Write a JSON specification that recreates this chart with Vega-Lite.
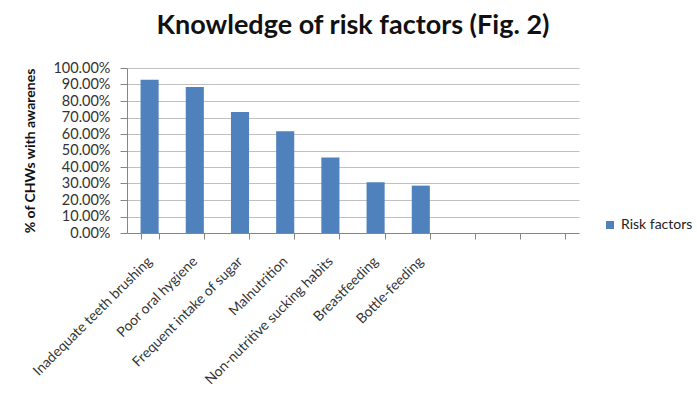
{
  "$schema": "https://vega.github.io/schema/vega-lite/v6.json",
  "width": 452,
  "height": 165,
  "autosize": {"type": "none"},
  "padding": {"left": 127, "top": 68, "right": 118, "bottom": 161},
  "background": "white",
  "title": {
    "text": "Knowledge of risk factors (Fig. 2)",
    "font": "Lato",
    "fontSize": 27,
    "fontWeight": "bold",
    "color": "#111111",
    "anchor": "middle",
    "offset": 20
  },
  "data": {
    "values": [
      {"factor": "Inadequate teeth brushing", "pct": 0.929, "series": "Risk factors"},
      {"factor": "Poor oral hygiene", "pct": 0.885, "series": "Risk factors"},
      {"factor": "Frequent intake of sugar", "pct": 0.733, "series": "Risk factors"},
      {"factor": "Malnutrition", "pct": 0.616, "series": "Risk factors"},
      {"factor": "Non-nutritive sucking habits", "pct": 0.458, "series": "Risk factors"},
      {"factor": "Breastfeeding", "pct": 0.307, "series": "Risk factors"},
      {"factor": "Bottle-feeding", "pct": 0.287, "series": "Risk factors"}
    ]
  },
  "mark": {"type": "bar"},
  "encoding": {
    "x": {
      "field": "factor",
      "type": "nominal",
      "scale": {
        "domain": ["Inadequate teeth brushing", "Poor oral hygiene", "Frequent intake of sugar", "Malnutrition", "Non-nutritive sucking habits", "Breastfeeding", "Bottle-feeding", " ", "  ", "   "],
        "paddingInner": 0.6,
        "paddingOuter": 0.3
      },
      "axis": {
        "title": null,
        "labelAngle": -45,
        "labelAlign": "right",
        "labelBaseline": "middle",
        "labelFont": "Lato",
        "labelFontSize": 14,
        "labelColor": "#333333",
        "labelPadding": 20,
        "labelOverlap": false,
        "labelLimit": 400,
        "tickBand": "extent",
        "tickSize": 6,
        "tickColor": "#868686",
        "domainColor": "#868686",
        "grid": false
      }
    },
    "y": {
      "field": "pct",
      "type": "quantitative",
      "scale": {"domain": [0, 1], "nice": false},
      "axis": {
        "title": "% of CHWs with awarenes",
        "titleFont": "Lato",
        "titleFontSize": 14,
        "titleFontWeight": "bold",
        "titleColor": "#111111",
        "titlePadding": 15,
        "format": ".2%",
        "values": [0, 0.1, 0.2, 0.3, 0.4, 0.5, 0.6, 0.7, 0.8, 0.9, 1],
        "labelFont": "Lato",
        "labelFontSize": 14.5,
        "labelColor": "#333333",
        "labelPadding": 10,
        "labelOverlap": false,
        "tickSize": 7,
        "tickColor": "#868686",
        "domainColor": "#868686",
        "grid": true,
        "gridColor": "#c0c0c0"
      }
    },
    "color": {
      "field": "series",
      "type": "nominal",
      "scale": {"range": ["#4F81BD"]},
      "legend": {
        "title": null,
        "orient": "none",
        "legendX": 476,
        "legendY": 150,
        "symbolType": "square",
        "symbolSize": 64,
        "symbolStrokeWidth": 0,
        "labelFont": "Lato",
        "labelFontSize": 14,
        "labelColor": "#222222"
      }
    }
  },
  "config": {"view": {"stroke": null}}
}
